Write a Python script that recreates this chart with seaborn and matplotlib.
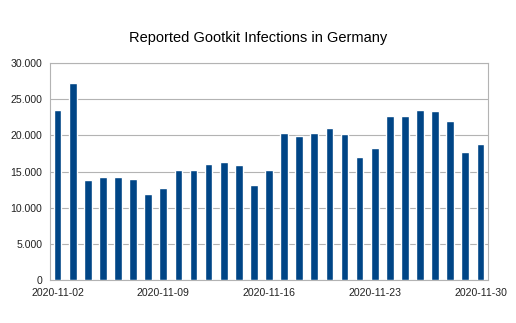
import matplotlib
matplotlib.use("Agg")
import matplotlib.pyplot as plt
import seaborn as sns
import pandas as pd
from matplotlib.ticker import FuncFormatter

dates = pd.date_range("2020-11-02", "2020-11-30", freq="D").strftime("%Y-%m-%d").tolist()
infections = [23440, 27270, 13840, 14210, 14300, 14030, 11860, 12740, 15270, 15270,
              16010, 16290, 15920, 13150, 15270, 20260, 19840, 20260, 21000, 20120,
              17030, 18180, 22660, 22610, 23440, 23300, 21920, 17720, 18830]
tick_labels = ["2020-11-02", "2020-11-09", "2020-11-16", "2020-11-23", "2020-11-30"]
title = "Reported Gootkit Infections in Germany"

df = pd.DataFrame({"date": dates, "infections": infections})

sns.set_style("white")
plt.rcParams["font.family"] = ["Liberation Sans", "DejaVu Sans"]

fig = plt.figure(figsize=(5.16, 3.23), dpi=100)
ax = fig.add_axes([50/516, 1-280/323, 438/516, 217/323])

sns.barplot(data=df, x="date", y="infections", order=dates, color="#004586",
            saturation=1, width=0.51, ax=ax, zorder=3)

ax.set_xlim(-0.5, len(dates) - 0.5)
ax.set_ylim(0, 30000)
ax.set_yticks(range(0, 30001, 5000))
ax.yaxis.set_major_formatter(FuncFormatter(lambda v, p: f"{int(v):,}".replace(",", ".")))
label_pos = [dates.index(t) for t in tick_labels]
ax.set_xticks(label_pos)
ax.set_xticklabels(tick_labels)
ax.set_xticks([p - 0.5 for p in label_pos], minor=True)
ax.set_xlabel("")
ax.set_ylabel("")

ax.grid(axis="y", color="#b3b3b3", linewidth=0.8, zorder=0)
for s in ax.spines.values():
    s.set_color("#b3b3b3")
    s.set_linewidth(0.8)
ax.tick_params(axis="both", labelsize=7.6, colors="#b3b3b3", labelcolor="#222222",
               length=3.5, width=0.8, direction="out", pad=2)
ax.tick_params(axis="x", which="major", length=0, pad=5.5)
ax.tick_params(axis="x", which="minor", length=3.5, width=0.8, color="#b3b3b3", direction="out")

fig.text(0.5, 1-38/323, title, ha="center", va="center", fontsize=10.5, color="#000000")

fig.savefig("out.png", dpi=100)
